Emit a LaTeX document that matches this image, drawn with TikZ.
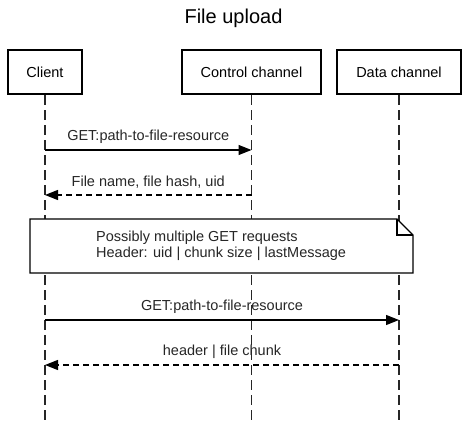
\documentclass[tikz,border=0pt]{standalone}
\usepackage{fontspec}
\setmainfont{Liberation Sans}
\usetikzlibrary{arrows.meta}
\begin{document}
\begin{tikzpicture}[x=1pt,y=-1pt,
  actor/.style={draw,line width=2.6pt,minimum height=44pt,inner sep=0pt,font=\fontsize{14.5}{17}\selectfont},
  lifeline/.style={line width=1.5pt,dash pattern=on 10pt off 5pt,draw=black!85},
  msg/.style={line width=1.3pt,-{Triangle[length=13pt,width=10pt]}},
  reply/.style={msg,dash pattern=on 6pt off 4pt},
  lbl/.style={font=\fontsize{14.5}{17}\selectfont,inner sep=0pt,text=black!85}]
\useasboundingbox (0,0) rectangle (467,422);
\node[font=\fontsize{20}{24}\selectfont] (title) at (233.5,18) {File upload};
\node[actor,minimum width=74pt] (client) at (45,72) {Client};
\node[actor,minimum width=139pt] (ctrl) at (251.5,72) {Control channel};
\node[actor,minimum width=124pt] (data) at (399,72) {Data channel};
\coordinate (cb) at (45,422);
\coordinate (kb) at (251.5,422);
\coordinate (db) at (399,422);
\draw[lifeline] (client.south) -- (cb);
\draw[lifeline] (ctrl.south) -- (kb);
\draw[lifeline] (data.south) -- (db);
% messages
\coordinate (c1) at (45,150); \coordinate (k1) at (251.5,150);
\draw[msg] (c1) -- node[lbl,above=6pt] (m1) {GET:path-to-file-resource} (k1);
\coordinate (c2) at (45,195); \coordinate (k2) at (251.5,195);
\draw[reply] (k2) -- node[lbl,above=6pt] (m2) {File name, file hash, uid} (c2);
% note
\draw[fill=white,line width=1.3pt] (30,219) -- (397,219) -- (413,235) -- (413,273) -- (30,273) -- cycle;
\draw[line width=1.3pt] (397,219) -- (397,235) -- (413,235);
\node[lbl,anchor=north west,align=left,font=\fontsize{14.5}{15.5}\selectfont] (note) at (96,231) {Possibly multiple GET requests\\Header: uid | chunk size | lastMessage};
\coordinate (c3) at (45,320); \coordinate (d3) at (399,320);
\draw[msg] (c3) -- node[lbl,above=6pt] (m3) {GET:path-to-file-resource} (d3);
\coordinate (c4) at (45,365); \coordinate (d4) at (399,365);
\draw[reply] (d4) -- node[lbl,above=6pt] (m4) {header | file chunk} (c4);
\end{tikzpicture}
\end{document}
